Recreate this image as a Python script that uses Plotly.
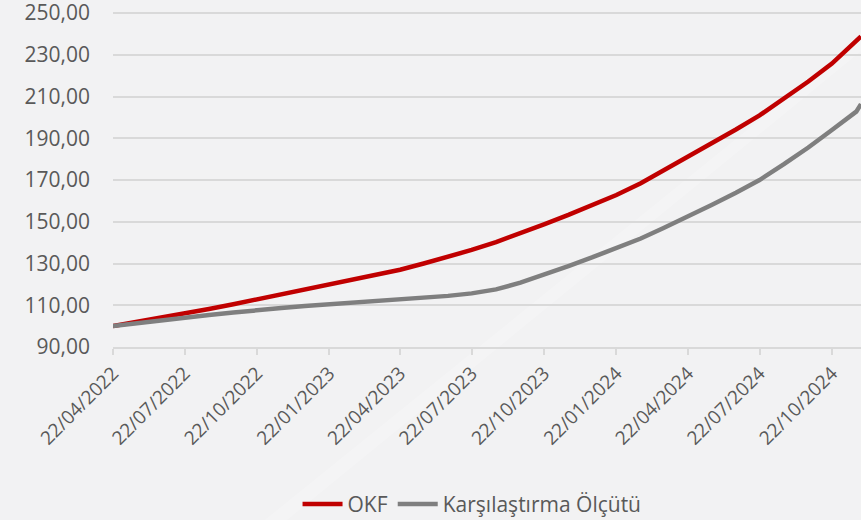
import plotly.graph_objects as go

# dates (22nd of each month) and values
dates = ['2022-04-22', '2022-05-22', '2022-06-22', '2022-07-22', '2022-08-22', '2022-09-22',
         '2022-10-22', '2022-11-22', '2022-12-22', '2023-01-22', '2023-02-22', '2023-03-22',
         '2023-04-22', '2023-05-22', '2023-06-22', '2023-07-22', '2023-08-22', '2023-09-22',
         '2023-10-22', '2023-11-22', '2023-12-22', '2024-01-22', '2024-02-22', '2024-03-22',
         '2024-04-22', '2024-05-22', '2024-06-22', '2024-07-22', '2024-08-22', '2024-09-22',
         '2024-10-22', '2024-11-22', '2024-11-28']

okf = [100.0, 101.9, 103.9, 106.0, 108.2, 110.5, 112.8, 115.2, 117.7, 120.3, 122.4, 124.6,
       127.0, 130.0, 133.2, 136.5, 140.3, 144.4, 148.8, 153.3, 158.0, 162.8, 168.5, 174.6,
       181.0, 187.5, 194.2, 201.0, 208.9, 217.2, 225.8, 236.5, 238.8]

benchmark = [100.0, 101.4, 102.7, 104.0, 105.3, 106.5, 107.7, 108.7, 109.6, 110.4, 111.2, 111.9,
             112.7, 113.5, 114.5, 115.7, 117.6, 120.8, 125.0, 128.8, 132.9, 137.3, 142.0, 147.0,
             152.4, 158.0, 163.9, 170.0, 177.6, 185.6, 194.0, 202.8, 206.4]

tick_dates = ['2022-04-22', '2022-07-22', '2022-10-22', '2023-01-22', '2023-04-22', '2023-07-22',
              '2023-10-22', '2024-01-22', '2024-04-22', '2024-07-22', '2024-10-22']
tick_labels = ['22/04/2022', '22/07/2022', '22/10/2022', '22/01/2023', '22/04/2023', '22/07/2023',
               '22/10/2023', '22/01/2024', '22/04/2024', '22/07/2024', '22/10/2024']

y_ticks = [90, 110, 130, 150, 170, 190, 210, 230, 250]

text_color = '#595959'
grid_color = '#d9d9d9'
bg = '#f2f2f3'

fig = go.Figure()
fig.add_trace(go.Scatter(x=dates, y=okf, mode='lines', name='OKF',
                         line=dict(color='#c00000', width=4.5)))
fig.add_trace(go.Scatter(x=dates, y=benchmark, mode='lines', name='Karşılaştırma Ölçütü',
                         line=dict(color='#7f7f7f', width=4.5)))

# faint diagonal light streak in the slide background
fig.add_shape(type='path', xref='paper', yref='paper', layer='below', line=dict(width=0),
              fillcolor='rgba(255,255,255,0.18)',
              path='M 0.23 -0.52 L 1.0 0.88 L 1.0 0.92 L 0.2 -0.52 Z')

fig.update_layout(
    width=861, height=520,
    margin=dict(l=113, r=0, t=11, b=173, autoexpand=False),
    paper_bgcolor=bg, plot_bgcolor='rgba(0,0,0,0)',
    font=dict(family='Open Sans', size=21, color=text_color),
    separators=',.',
    showlegend=True,
    legend=dict(orientation='h', x=0.48, xanchor='center',
                yref='container', y=0.03, yanchor='middle',
                bgcolor='rgba(0,0,0,0)', font=dict(size=21, color=text_color),
                itemwidth=40),
)

fig.update_xaxes(
    type='date', range=['2022-04-22', dates[-1]], automargin=False,
    tickvals=tick_dates, ticktext=tick_labels, tickangle=-45,
    showgrid=False, showline=True, linecolor=grid_color, linewidth=1.5,
    ticks='outside', ticklen=6, tickcolor=grid_color, tickwidth=1.5,
    tickfont=dict(size=19, color=text_color), zeroline=False,
)
fig.update_yaxes(
    range=[90, 251], tickvals=y_ticks, tickformat='.2f', automargin=False,
    showgrid=True, gridcolor=grid_color, gridwidth=1.5,
    showline=False, zeroline=False, ticklabelstandoff=22, ticklabeloverflow='allow',
    tickfont=dict(size=21, color=text_color),
)

# page body has a default 8px margin; remove it so the figure sits at the top-left corner
fig.write_html("out.html", config={'displayModeBar': False},
               post_script="document.body.style.margin='0';document.body.style.overflow='hidden';")
